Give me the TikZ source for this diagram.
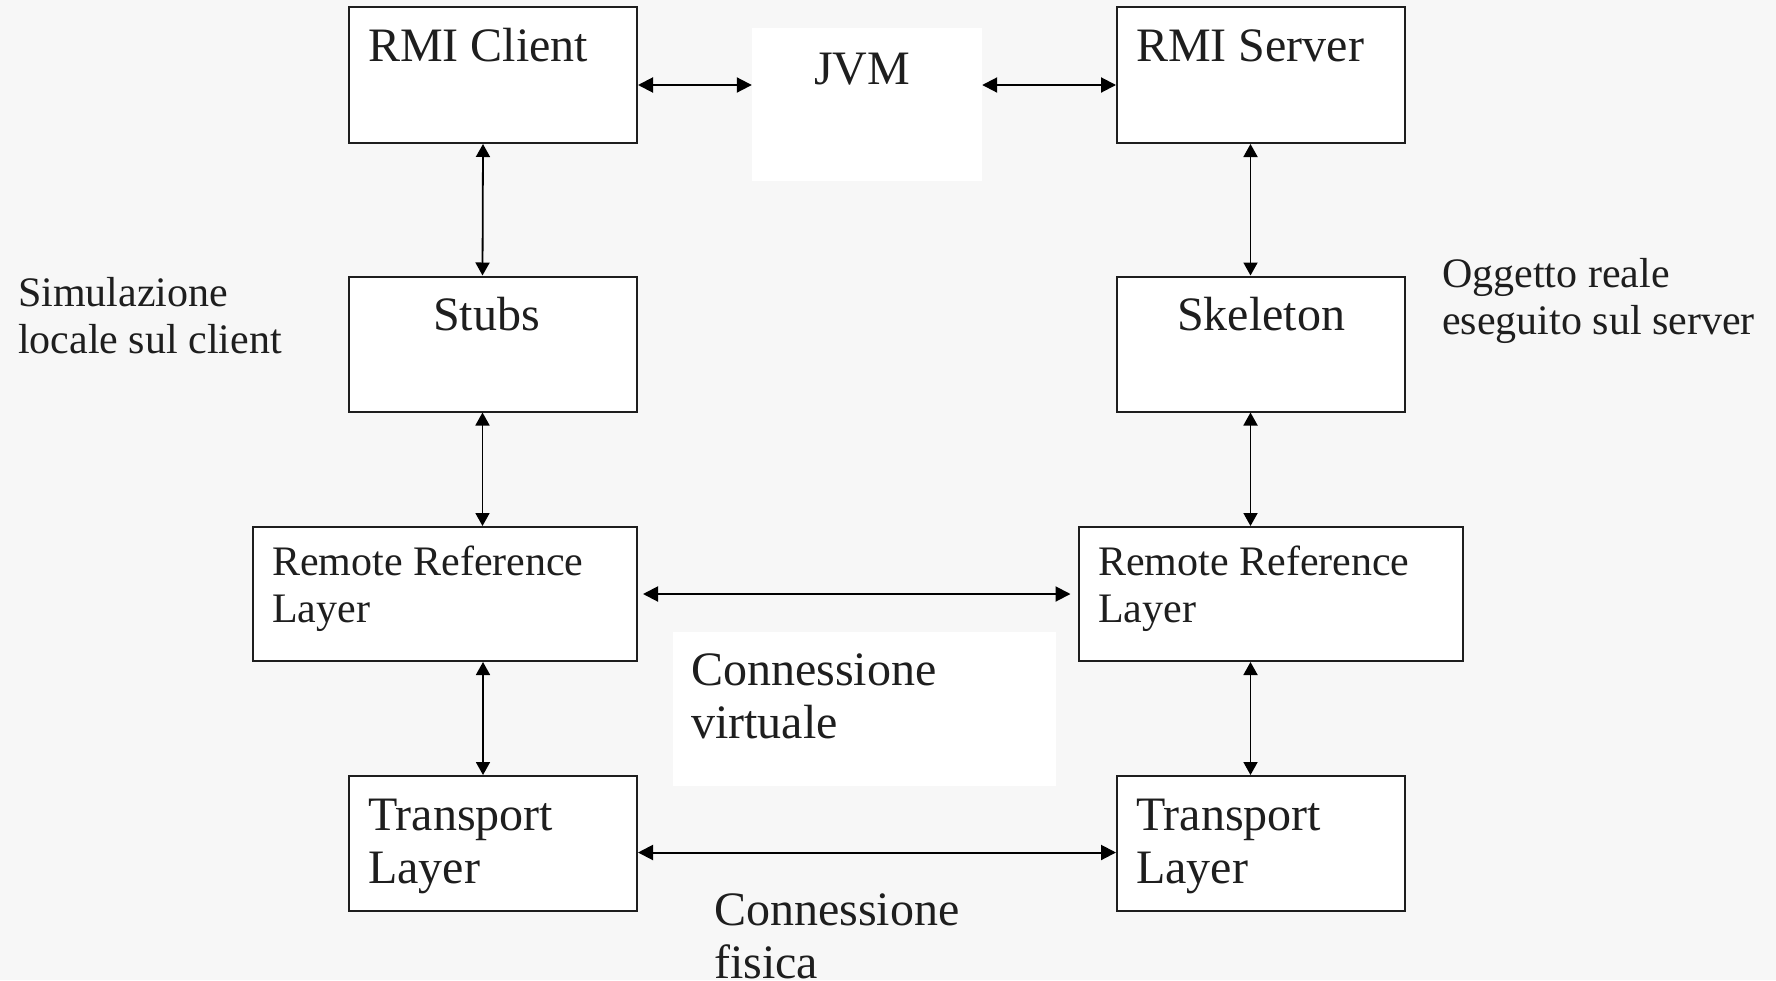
\documentclass[tikz,border=0pt]{standalone}
\usepackage{fontspec}
\setmainfont{Liberation Serif}
\usetikzlibrary{arrows.meta}
\definecolor{bgc}{HTML}{F7F7F7}
\definecolor{txc}{HTML}{1E1E1E}
\newcommand{\twol}[2]{\vtop{\hbox{#1}\hbox{#2}}}
\newcommand{\bigf}{\fontsize{48}{53}\selectfont}
\newcommand{\smallf}{\fontsize{42}{47}\selectfont}
\tikzset{
  boxnode/.style={draw=txc, line width=2pt, fill=white, inner sep=0pt},
  whitebox/.style={fill=white, draw=none, inner sep=0pt},
  txt/.style={anchor=base west, inner sep=0pt, text=txc},
  harr/.style={draw=black, line width=2pt, {Triangle[length=15pt,width=15pt]}-{Triangle[length=15pt,width=15pt]}},
  varr/.style={draw=black, line width=1.8pt, {Triangle[length=13pt,width=14pt]}-{Triangle[length=13pt,width=14pt]}}
}
\begin{document}
\begin{tikzpicture}[x=1pt,y=-1pt]
\useasboundingbox (0,0) rectangle (1776,980);
\fill[bgc] (0,0) rectangle (1776,980);
% boxes
\node[boxnode, minimum width=288pt, minimum height=136pt] (client) at (493,75) {};
\node[whitebox, minimum width=230pt, minimum height=153pt] (jvm) at (867,104.5) {};
\node[boxnode, minimum width=288pt, minimum height=136pt] (server) at (1261,75) {};
\node[boxnode, minimum width=288pt, minimum height=135pt] (stubs) at (492.5,344) {};
\node[boxnode, minimum width=288pt, minimum height=135pt] (skel) at (1261,344) {};
\node[boxnode, minimum width=384pt, minimum height=134pt] (rrl) at (445,594) {};
\node[boxnode, minimum width=384pt, minimum height=134pt] (rrr) at (1270.5,594) {};
\node[whitebox, minimum width=383pt, minimum height=154pt] (cv) at (864,709) {};
\node[boxnode, minimum width=288pt, minimum height=135pt] (tl) at (493,843.5) {};
\node[boxnode, minimum width=288pt, minimum height=135pt] (tr) at (1261,843.5) {};
% texts
\node[txt, font=\bigf] (tclient) at (368,61) {RMI Client};
\node[txt, font=\bigf] (tjvm) at (814,84) {JVM};
\node[txt, font=\bigf] (tserver) at (1136,61) {RMI Server};
\node[txt, font=\bigf] (tstubs) at (433,330) {Stubs};
\node[txt, font=\bigf] (tskel) at (1177,330) {Skeleton};
\node[txt, font=\smallf] (tsim) at (18,306) {\twol{Simulazione}{locale sul client}};
\node[txt, font=\smallf] (togg) at (1442,287) {\twol{Oggetto reale}{eseguito sul server}};
\node[txt, font=\smallf] (trrl) at (272,575) {\twol{Remote Reference}{Layer}};
\node[txt, font=\smallf] (trrr) at (1098,575) {\twol{Remote Reference}{Layer}};
\node[txt, font=\bigf] (tcv) at (691,685) {\twol{Connessione}{virtuale}};
\node[txt, font=\bigf] (ttl) at (368,830) {\twol{Transport}{Layer}};
\node[txt, font=\bigf] (ttr) at (1136,830) {\twol{Transport}{Layer}};
\node[txt, font=\bigf] (tcf) at (714,925) {\twol{Connessione}{fisica}};
% connectors
\draw[harr] ([yshift=-10pt]client.east) -- ([yshift=-10pt]client.east -| jvm.west);
\draw[harr] ([yshift=-10pt]server.west -| jvm.east) -- ([yshift=-10pt]server.west);
\draw[varr] ([xshift=-10pt]client.south) -- ([xshift=-10pt]stubs.north);
\draw[varr] ([xshift=-10pt]stubs.south) -- ([xshift=-10pt]stubs.south |- rrl.north);
\draw[varr] ([xshift=-10pt]tl.north |- rrl.south) -- ([xshift=-10pt]tl.north);
\draw[varr] ([xshift=-10.5pt]server.south) -- ([xshift=-10.5pt]skel.north);
\draw[varr] ([xshift=-10.5pt]skel.south) -- ([xshift=-10.5pt]skel.south |- rrr.north);
\draw[varr] ([xshift=-10.5pt]tr.north |- rrr.south) -- ([xshift=-10.5pt]tr.north);
\draw[harr, shorten <=5pt, shorten >=7pt] (rrl.east) -- (rrr.west);
\draw[harr] ([yshift=-9pt]tl.east) -- ([yshift=-9pt]tr.west);
\end{tikzpicture}
\end{document}
